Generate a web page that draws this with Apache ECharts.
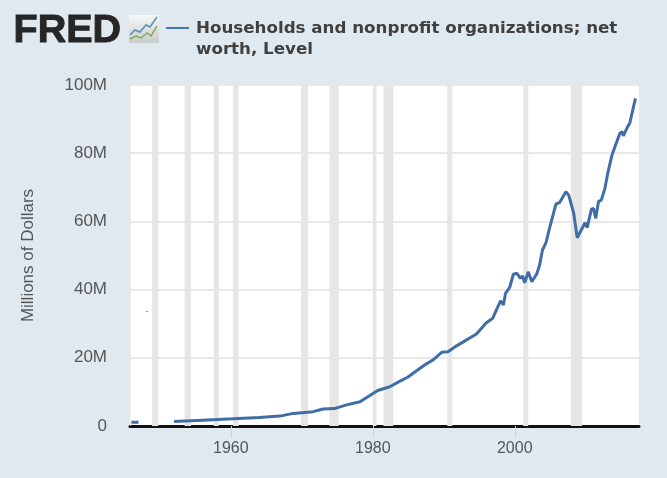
<!DOCTYPE html>
<html><head><meta charset="utf-8">
<style>html,body{margin:0;padding:0;background:#e0e8f0}#c{width:667px;height:478px}</style>
<script src="https://cdn.jsdelivr.net/npm/echarts@6/dist/echarts.min.js"></script>
</head><body><div id="c"></div>
<script>
const seriesName = 'Households and nonprofit organizations; net worth, Level';
const titleText = 'Households and nonprofit organizations; net\nworth, Level';
const yTicks = [0, 20, 40, 60, 80, 100];
const xTicks = [1960, 1980, 2000];
const years = [1946.0,1947.0,null,
 1952,1956,1960.3,1964,1966.9,1968.8,1971.6,1973,1974.6,1976.3,1978.2,1980.7,1982.4,1983.7,1984.9,1987.3,1988.5,1989.7,1990.6,1991.8,1994.6,1996,1996.9,
 1997.4,1998,1998.4,1998.7,1999.3,1999.8,2000.3,2000.8,2001.1,2001.4,2001.9,2002.4,2003.1,2003.5,2003.9,2004.4,2004.9,2005.8,2006.3,2007.2,2007.6,2008.3,2008.8,2009.9,2010.2,2010.8,2011.1,2011.4,2011.8,2012.2,2012.7,2013.1,2013.7,2014.2,2014.8,2015.1,2015.3,2015.9,2016.2,2017];
const values = [1.1,1.1,null,
 1.3,1.7,2.1,2.5,2.9,3.7,4.2,5.0,5.1,6.2,7.1,10.4,11.5,13,14.3,17.9,19.4,21.6,21.8,23.5,27,30.3,31.6,
 34,36.7,35.5,38.9,40.7,44.5,44.8,43.3,44,42,45.2,42.3,44.6,47.2,51.6,53.8,58,65.1,65.5,68.7,67.7,62.4,55.2,59.6,58.2,63.6,63.8,60.9,65.8,66.3,69.7,74.1,79.5,82.4,85.8,86.3,85.1,87.8,88.8,96.1];
const recessionStart = [1945.8,1948.9,1953.5,1957.6,1960.3,1969.9,1973.9,1980.0,1981.5,1990.5,2001.2,2007.9];
const recessionEnd   = [1945.9,1949.8,1954.4,1958.3,1961.1,1970.9,1975.2,1980.5,1982.9,1991.2,2001.9,2009.5];

const textFont = '"Liberation Sans", Arial, sans-serif';
const chart = echarts.init(document.getElementById('c'), null, {renderer:'canvas'});
chart.setOption({
  animation:false,
  backgroundColor:'#e0e8f0',
  title:{left:191,top:13,text:titleText,
    textStyle:{fontFamily:'"DejaVu Sans", sans-serif',fontSize:16.7,fontWeight:'bold',color:'#404040',lineHeight:21}},
  grid:{left:130,right:28,top:85,bottom:52,backgroundColor:'#ffffff',show:true,borderWidth:0},
  xAxis:{type:'value',min:1945.8,max:2017.5,
    axisLine:{show:true,onZero:false,lineStyle:{color:'#111',width:3}},
    axisTick:{show:true,customValues:xTicks,length:12,lineStyle:{color:'#c8d3e8',width:1}},
    axisLabel:{customValues:xTicks,formatter:v=>String(v),fontFamily:textFont,fontSize:16,color:'#555',margin:15},
    splitLine:{show:false}},
  yAxis:{type:'value',min:0,max:100,interval:20,
    name:'Millions of Dollars',nameLocation:'middle',nameGap:93,nameRotate:90,
    nameTextStyle:{fontFamily:textFont,fontSize:17,color:'#555'},
    axisLine:{show:false},axisTick:{show:false},
    axisLabel:{formatter:v=>yTicks.includes(v)?(v===0?'0':v+'M'):'',fontFamily:textFont,fontSize:17,color:'#555',margin:23,padding:[5,0,0,0]},
    splitLine:{show:true,lineStyle:{color:'#e8e8e8',width:2}}},
  series:[{
    name:seriesName,type:'line',showSymbol:false,connectNulls:false,smooth:false,
    clip:true,
    lineStyle:{color:'#3f6ea6',width:3},
    itemStyle:{color:'#3f6ea6'},
    data:years.map((y,i)=>[y,values[i]]),
    z:3,
    markArea:{silent:true,itemStyle:{color:'#e6e6e6'},
      data:recessionStart.map((s,i)=>[{xAxis:s},{xAxis:recessionEnd[i]}])}
  }],
  graphic:[
    {type:'text',left:13,top:11,style:{text:'FRED',fontFamily:textFont,fontSize:39.5,fontWeight:'bold',fill:'#262626',stroke:'#262626',lineWidth:1}},
    {type:'rect',shape:{x:129,y:15,width:30,height:28},style:{fill:new echarts.graphic.LinearGradient(0,0,0,1,[{offset:0,color:'#f7f8f8'},{offset:1,color:'#c9cccc'}])}},
    {type:'polyline',shape:{points:[[130,35],[135,30],[140,32],[146,25],[150,27],[157,17]]},style:{stroke:'#5b8fb8',lineWidth:1.5,fill:null}},
    {type:'polyline',shape:{points:[[130,39],[136,36],[141,38],[147,33],[151,36],[157,26]]},style:{stroke:'#7fae55',lineWidth:1.5,fill:null}},
    {type:'rect',shape:{x:166,y:27,width:23,height:2},style:{fill:'#4a78ae'}},
    {type:'rect',shape:{x:146.5,y:311,width:1,height:1},style:{fill:'#333'}}
  ]
});
</script></body></html>
